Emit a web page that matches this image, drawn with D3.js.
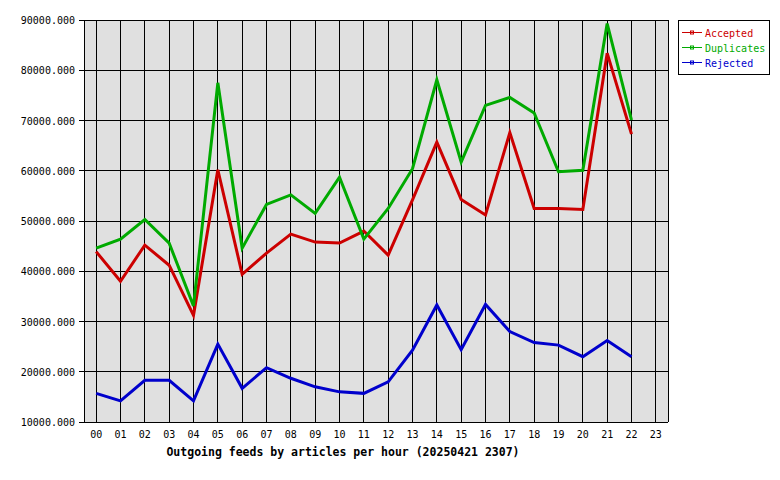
<!DOCTYPE html>
<html>
<head>
<meta charset="utf-8">
<script src="https://cdn.jsdelivr.net/npm/d3@7"></script>
<style>
  body { margin: 0; background: #fff; }
  svg { display: block; }
  text { font-family: "DejaVu Sans Mono", "Liberation Mono", monospace; }
</style>
</head>
<body>
<svg width="780" height="480"></svg>
<script>
// hours on the x axis
const hours = ["00","01","02","03","04","05","06","07","08","09","10","11",
  "12","13","14","15","16","17","18","19","20","21","22","23"];

// series values (articles per hour)
const accepted = [43900, 38000, 45200, 41200, 31200, 60200, 39400, 43600, 47400,
  45800, 45600, 48000, 43200, 54200, 65700, 54300, 51200, 67600, 52500, 52500,
  52300, 83400, 67300];
const duplicates = [44600, 46400, 50300, 45600, 33100, 77500, 44600, 53300, 55200,
  51500, 58700, 46400, 52500, 60400, 78100, 61700, 73000, 74600, 71500, 59800,
  60100, 89300, 70100];
const rejected = [15700, 14200, 18300, 18300, 14200, 25500, 16700, 20800, 18700,
  17000, 16000, 15700, 18000, 24300, 33300, 24400, 33400, 28000, 25800, 25300,
  23000, 26200, 23000];

const seriesNames = ["Accepted", "Duplicates", "Rejected"];
const yTicks = [10000, 20000, 30000, 40000, 50000, 60000, 70000, 80000, 90000];
const title = "Outgoing feeds by articles per hour (20250421 2307)";

const colors = { Accepted: "#cc0000", Duplicates: "#00aa00", Rejected: "#0000cc" };
const series = [
  { name: "Accepted", values: accepted },
  { name: "Duplicates", values: duplicates },
  { name: "Rejected", values: rejected }
];

const svg = d3.select("svg");

const plot = { left: 84, top: 20, right: 668, bottom: 422 };

// scales
const x = d3.scalePoint().domain(hours).range([plot.left, plot.right]).padding(0.5);
const y = d3.scaleLinear().domain([10000, 90000]).range([plot.bottom, plot.top]);

// background
svg.append("rect")
  .attr("x", plot.left).attr("y", plot.top)
  .attr("width", plot.right - plot.left).attr("height", plot.bottom - plot.top)
  .attr("fill", "#e0e0e0");

const grid = svg.append("g").attr("stroke", "#000").attr("stroke-width", 1)
  .attr("shape-rendering", "crispEdges");

// vertical grid at each hour
grid.selectAll("line.v").data(hours).enter().append("line")
  .attr("x1", d => x(d)).attr("x2", d => x(d))
  .attr("y1", plot.top).attr("y2", plot.bottom);

// horizontal grid + left ticks
grid.selectAll("line.h").data(yTicks).enter().append("line")
  .attr("x1", plot.left - 5).attr("x2", plot.right)
  .attr("y1", d => y(d)).attr("y2", d => y(d));

// frame left / right
grid.append("line").attr("x1", plot.left).attr("x2", plot.left)
  .attr("y1", plot.top).attr("y2", plot.bottom);
grid.append("line").attr("x1", plot.right).attr("x2", plot.right)
  .attr("y1", plot.top).attr("y2", plot.bottom);

// y labels
svg.append("g").selectAll("text").data(yTicks).enter().append("text")
  .attr("x", plot.left - 9).attr("y", d => y(d) + 4)
  .attr("text-anchor", "end").attr("font-size", 10).attr("fill", "#000")
  .text(d3.format(".3f"));

// x labels
svg.append("g").selectAll("text").data(hours).enter().append("text")
  .attr("x", d => x(d)).attr("y", 438)
  .attr("text-anchor", "middle").attr("font-size", 10).attr("fill", "#000")
  .text(d => d);

// title
svg.append("text")
  .attr("x", (plot.left + plot.right) / 2 - 33).attr("y", 456)
  .attr("text-anchor", "middle").attr("font-size", 11.5).attr("font-weight", "bold")
  .attr("fill", "#000")
  .text(title);

// lines
const line = d3.line()
  .x((d, i) => x(hours[i]))
  .y(d => y(d));

svg.append("g").selectAll("path").data(series).enter().append("path")
  .attr("d", d => line(d.values))
  .attr("fill", "none")
  .attr("stroke", d => colors[d.name])
  .attr("stroke-width", 3)
  .attr("stroke-linejoin", "miter");

// legend
const legend = svg.append("g");
legend.append("rect")
  .attr("x", 678.5).attr("y", 20.5).attr("width", 91).attr("height", 54)
  .attr("fill", "#fff").attr("stroke", "#000").attr("stroke-width", 1);

const items = legend.selectAll("g.item").data(seriesNames).enter().append("g")
  .attr("transform", (d, i) => `translate(0, ${32.5 + i * 15})`);
items.append("line")
  .attr("x1", 682).attr("x2", 702).attr("y1", 0).attr("y2", 0)
  .attr("stroke", d => colors[d]).attr("stroke-width", 1);
items.append("rect")
  .attr("x", 690.5).attr("y", -1.5).attr("width", 3).attr("height", 3)
  .attr("fill", "none").attr("stroke", d => colors[d]).attr("stroke-width", 1);
items.append("text")
  .attr("x", 705).attr("y", 4)
  .attr("font-size", 10).attr("fill", d => colors[d])
  .text(d => d);
</script>
</body>
</html>
